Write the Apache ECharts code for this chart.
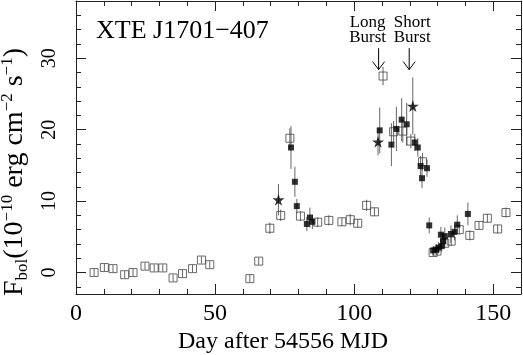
<!DOCTYPE html>
<html>
<head>
<meta charset="utf-8">
<script src="https://cdn.jsdelivr.net/npm/echarts@6/dist/echarts.min.js"></script>
<style>
  html, body { margin: 0; padding: 0; background: #fff; }
  #main { width: 523px; height: 355px; }
</style>
</head>
<body>
<div id="main"></div>
<script>
// [day, flux, error]
const openSq = [
  [6.5, 0.0, 0.5], [10.2, 0.7, 0.5], [13.3, 0.55, 0.5], [17.5, -0.3, 0.5], [20.5, 0.0, 0.5],
  [24.8, 0.9, 0.5], [28.1, 0.65, 0.5], [31.2, 0.65, 0.5], [34.9, -0.75, 0.5], [38.3, -0.15, 0.5],
  [41.9, 0.55, 0.5], [45.1, 1.75, 0.5], [48.1, 1.1, 0.5], [62.5, -0.85, 0.5], [65.7, 1.6, 0.5],
  [69.7, 6.2, 0.8], [73.6, 8.0, 0.8], [76.9, 18.8, 1.4], [80.7, 7.9, 0.7], [86.9, 7.05, 0.7],
  [90.9, 7.3, 0.7], [95.6, 7.1, 0.6], [98.6, 7.4, 0.8], [101.3, 6.9, 0.6], [104.5, 9.4, 0.8],
  [107.3, 8.5, 0.6], [110.4, 27.5, 1.3], [114.2, 19.7, 1.5], [117.5, 19.8, 1.6], [120.4, 18.4, 1.0],
  [124.6, 15.5, 1.2], [128.4, 2.8, 0.5], [129.8, 3.0, 0.5], [132.6, 4.1, 0.6], [134.9, 4.4, 0.7],
  [137.8, 6.0, 0.7], [141.6, 5.2, 0.7], [144.9, 6.6, 0.6], [147.9, 7.6, 0.6], [151.6, 6.1, 0.6],
  [154.6, 8.4, 0.7]
];
const filledSq = [
  [77.3, 17.5, 3.0], [78.7, 12.7, 2.1], [79.4, 9.3, 1.0], [83.0, 6.8, 1.0], [84.1, 7.7, 1.4],
  [85.0, 7.1, 1.0], [109.2, 19.9, 3.2], [113.4, 17.9, 3.0], [115.2, 20.1, 3.1], [117.1, 21.4, 3.0],
  [118.9, 20.75, 3.0], [121.8, 18.2, 1.2], [122.9, 17.5, 1.3], [123.9, 14.9, 1.4], [124.4, 13.2, 1.4],
  [126.2, 14.6, 1.2], [127.0, 6.6, 1.1], [128.4, 3.1, 0.6], [129.6, 3.2, 0.7], [130.3, 3.5, 0.8],
  [131.2, 5.3, 1.1], [131.5, 3.7, 0.8], [132.0, 4.4, 1.0], [132.6, 5.1, 1.2], [134.8, 5.4, 1.2],
  [136.1, 5.7, 1.2], [137.1, 6.7, 1.3], [140.9, 8.2, 1.6]
];
const stars = [[72.8, 10.2, 2.2], [108.6, 18.3, 1.9], [121.1, 23.3, 4.0]];

const xLabels = [0, 50, 100, 150];
const xMinor = [10, 20, 30, 40, 60, 70, 80, 90, 110, 120, 130, 140, 150];
const yLabels = [0, 10, 20, 30];
const yMinor = [-2, 2, 4, 6, 8, 12, 14, 16, 18, 22, 24, 26, 28, 32, 34, 36];
// burst markers: [label, day]
const bursts = [['Long\nBurst', 108.8], ['Short\nBurst', 119.8]];
const arrowFrom = 31.4, arrowTo = 28.4;

const FONT = '"Liberation Serif", "Times New Roman", serif';
const starPath = 'path://M50,0 L61,35 L98,35 L68,57 L79,91 L50,70 L21,91 L32,57 L2,35 L39,35 Z';

function xAxis(pos, ticks, len, showLine, labels) {
  return {
    type: 'value', position: pos, min: 0, max: 160,
    splitLine: { show: false },
    axisLine: { show: showLine, onZero: false, lineStyle: { color: '#222', width: 1 } },
    axisTick: { inside: true, length: len, customValues: ticks, lineStyle: { color: '#222' } },
    axisLabel: labels ? {
      customValues: xLabels, fontFamily: FONT, fontSize: 24, color: '#000', margin: 8
    } : { show: false }
  };
}
function yAxis(pos, ticks, len, showLine, labels) {
  return {
    type: 'value', position: pos, min: -3, max: 38,
    splitLine: { show: false },
    axisLine: { show: showLine, onZero: false, lineStyle: { color: '#222', width: 1 } },
    axisTick: { inside: true, length: len, customValues: ticks, lineStyle: { color: '#222' } },
    axisLabel: labels ? {
      customValues: yLabels, fontFamily: FONT, fontSize: 20, color: '#000', rotate: 90, margin: 16
    } : { show: false }
  };
}

function errBars(data) {
  return {
    type: 'custom', data: data, xAxisIndex: 0, yAxisIndex: 0, z: 1,
    encode: { x: 0, y: 1 },
    renderItem: function (params, api) {
      const x = api.value(0), y = api.value(1), e = api.value(2);
      const a = api.coord([x, y - e]), b = api.coord([x, y + e]);
      return { type: 'line', shape: { x1: a[0], y1: a[1], x2: b[0], y2: b[1] },
        style: { stroke: '#666', lineWidth: 1 } };
    }
  };
}

const chart = echarts.init(document.getElementById('main'));
chart.setOption({
  animation: false,
  backgroundColor: '#fff',
  grid: { left: 76, right: 2, top: 1, bottom: 61 },
  xAxis: [
    xAxis('bottom', xMinor, 5, true, true),
    xAxis('bottom', xLabels, 10, false, false),
    xAxis('top', xMinor, 5, true, false),
    xAxis('top', xLabels, 10, false, false)
  ],
  yAxis: [
    yAxis('left', yMinor, 5, true, true),
    yAxis('left', yLabels, 10, false, false),
    yAxis('right', yMinor, 5, true, false),
    yAxis('right', yLabels, 10, false, false)
  ],
  series: [
    errBars(openSq), errBars(filledSq), errBars(stars),
    {
      type: 'scatter', data: openSq, symbol: 'rect', symbolSize: 8, z: 2,
      itemStyle: { color: 'rgba(0,0,0,0)', borderColor: '#444', borderWidth: 1 }
    },
    {
      type: 'scatter', data: filledSq, symbol: 'rect', symbolSize: 6, z: 3,
      itemStyle: { color: '#000' }
    },
    {
      type: 'scatter', data: stars, symbol: starPath, symbolSize: 12, z: 3,
      itemStyle: { color: '#000' }
    }
  ]
});

// annotations
const g = [
  { type: 'text', left: 96, top: 18,
    style: { text: 'XTE J1701\u2212407', font: '26px ' + FONT, fill: '#000' } },
  { type: 'text', x: 15, y: 172, rotation: Math.PI / 2,
    style: {
      text: '{m|F}{sub|bol}{m|(10}{sup|\u221210}{m| erg cm}{sup|\u22122}{m| s}{sup|\u22121}{m|)}',
      align: 'center', verticalAlign: 'middle', fill: '#000',
      rich: {
        m: { fontFamily: FONT, fontSize: 28, lineHeight: 32, verticalAlign: 'middle' },
        sup: { fontFamily: FONT, fontSize: 17, lineHeight: 17, verticalAlign: 'top' },
        sub: { fontFamily: FONT, fontSize: 17, lineHeight: 19, verticalAlign: 'bottom' }
      }
    } },
  { type: 'text', x: 283, y: 342,
    style: { text: 'Day after 54556 MJD', font: '24px ' + FONT, fill: '#000',
      align: 'center', verticalAlign: 'middle' } }
];
bursts.forEach(function (b, i) {
  const top = chart.convertToPixel({ xAxisIndex: 0, yAxisIndex: 0 }, [b[1], arrowFrom]);
  const bot = chart.convertToPixel({ xAxisIndex: 0, yAxisIndex: 0 }, [b[1], arrowTo]);
  g.push({ type: 'text', x: top[0] + (i === 0 ? -11 : 3), y: 30,
    style: { text: b[0], font: '17px ' + FONT, fill: '#000', align: 'center',
      verticalAlign: 'middle', lineHeight: 15 } });
  g.push({ type: 'polyline', shape: { points: [top, bot] }, style: { stroke: '#000', lineWidth: 1 } });
  g.push({ type: 'polyline',
    shape: { points: [[bot[0] - 6, bot[1] - 8], bot, [bot[0] + 6, bot[1] - 8]] },
    style: { stroke: '#000', lineWidth: 1, fill: null } });
});
chart.setOption({ graphic: g });
</script>
</body>
</html>
